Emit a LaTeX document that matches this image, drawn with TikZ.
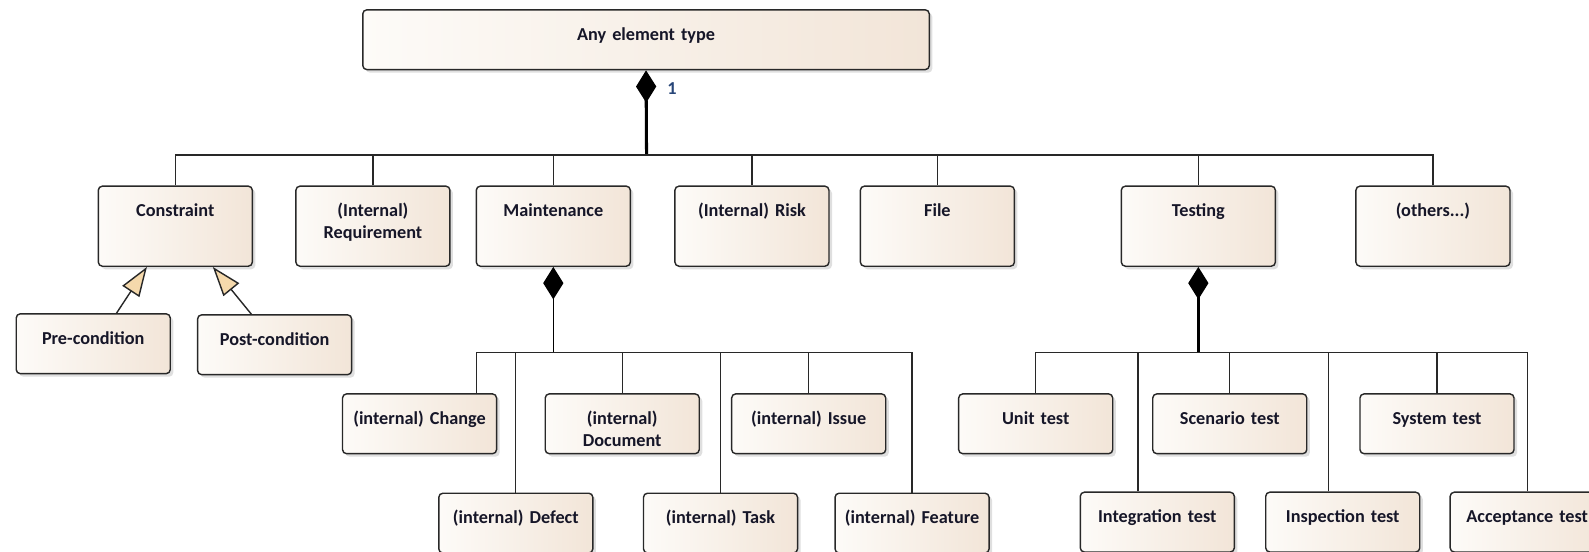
\documentclass[tikz,border=0pt]{standalone}
\usepackage{fontspec}
\setmainfont{Carlito}
\usetikzlibrary{arrows.meta,shadows}
\definecolor{boxl}{RGB}{253,251,248}
\definecolor{boxr}{RGB}{242,229,216}
\definecolor{edge}{RGB}{40,40,40}
\definecolor{txt}{RGB}{22,22,40}
\definecolor{genfill}{RGB}{245,217,172}
\definecolor{multc}{RGB}{40,70,120}
\begin{document}
\begin{tikzpicture}[x=0.5pt,y=-0.5pt,
	elem/.style={draw=edge, line width=0.7pt, rounded corners=2pt, left color=boxl, right color=boxr,
		drop shadow={shadow xshift=1.5pt, shadow yshift=-1.5pt, opacity=0.25},
		font=\fontsize{9}{11}\selectfont\bfseries, text=txt, align=center,
		inner xsep=2pt, inner ysep=0pt, text width=72pt, anchor=north},
	tall/.style={elem, text height=15pt, text depth=24.5pt},
	flat/.style={elem, text height=15pt, text depth=14.5pt},
	bus/.style={draw=edge, line width=0.6pt},
	comp/.style={draw=black, -{Diamond[length=16pt,width=10pt]}},
	gen/.style={draw=edge, line width=0.7pt, -{Triangle[length=14.5pt,width=10pt,fill=genfill]}}]
				\useasboundingbox (0,0) rectangle (1568,544);
				% top element
				\node[flat, text width=275.5pt] (anyelem) at (637.5,9) {Any element type};
				% first row
				\node[tall] (constraint) at (173,183) {Constraint};
				\node[tall] (requirement) at (368,183) {(Internal)\\Requirement};
				\node[tall] (maintenance) at (546,183) {Maintenance};
				\node[tall] (risk) at (742,183) {(Internal) Risk};
				\node[tall] (file) at (925,183) {File};
				\node[tall] (testing) at (1182.5,183) {Testing};
				\node[tall] (others) at (1414,183) {(others...)};
				% constraint kinds
				\node[flat] (precond) at (92,309) {Pre-condition};
				\node[flat] (postcond) at (271,310) {Post-condition};
				% maintenance parts
				\node[flat] (change) at (414,388) {(internal) Change};
				\node[flat] (document) at (614,388) {(internal)\\Document};
				\node[flat] (issue) at (798,388) {(internal) Issue};
				\node[flat] (defect) at (509,486) {(internal) Defect};
				\node[flat] (task) at (711,486) {(internal) Task};
				\node[flat] (feature) at (900,486) {(internal) Feature};
				% testing parts
				\node[flat] (unittest) at (1022,388) {Unit test};
				\node[flat] (scenariotest) at (1213.5,388) {Scenario test};
				\node[flat] (systemtest) at (1418,388) {System test};
				\node[flat] (integrationtest) at (1142,485) {Integration test};
				\node[flat] (inspectiontest) at (1325,485) {Inspection test};
				\node[flat] (acceptancetest) at (1507,485) {Acceptance test};
				% composition from the top element
				\coordinate (topbus) at (638,153);
				\draw[comp, line width=1.5pt] (topbus) -- (anyelem.south);
				\node[font=\fontsize{9}{11}\selectfont\bfseries, text=multc] (mult) at (663,87) {1};
				\foreach \n in {constraint,requirement,maintenance,risk,file,testing,others}
					\draw[bus] (\n.north) |- (topbus);
				% generalisations
				\draw[gen] ([xshift=11.5pt]precond.north) -- ([xshift=-14pt]constraint.south);
				\draw[gen] ([xshift=-11.5pt]postcond.north) -- ([xshift=18.5pt]constraint.south);
				% maintenance composition
				\coordinate (mbus) at (546,348);
				\draw[comp, line width=0.8pt] (mbus) -- (maintenance.south);
				\draw[bus] ([xshift=28pt]change.north) |- (mbus);
				\foreach \n in {document,issue,defect,task,feature}
					\draw[bus] (\n.north) |- (mbus);
				% testing composition
				\coordinate (tbus) at (1182.5,348);
				\draw[comp, line width=1.5pt] (tbus) -- (testing.south);
				\draw[bus] ([xshift=-9.5pt]integrationtest.north) |- (tbus);
				\draw[bus] ([xshift=-7pt]inspectiontest.north) |- (tbus);
				\foreach \n in {unittest,scenariotest,systemtest,acceptancetest}
					\draw[bus] (\n.north) |- (tbus);
			\end{tikzpicture}
\end{document}
